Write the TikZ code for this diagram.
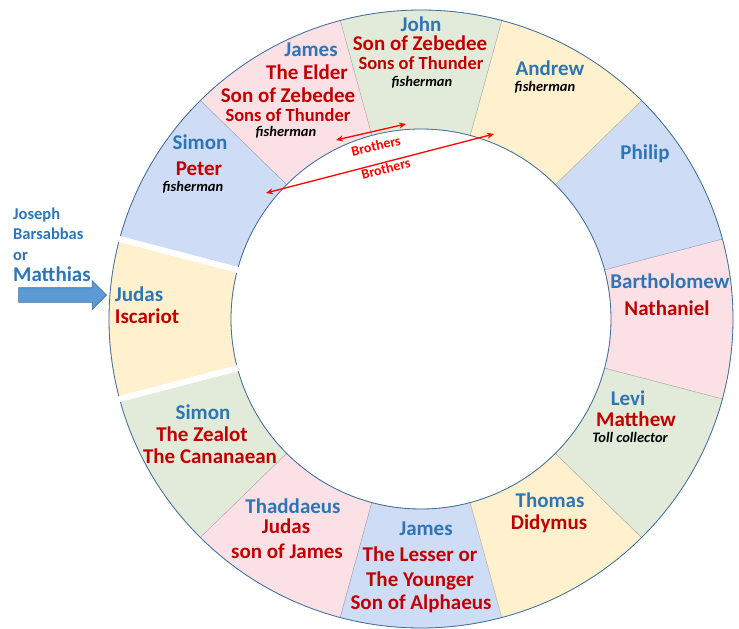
\documentclass[tikz,border=0pt]{standalone}
\usepackage{fontspec}
\setmainfont{Carlito}
\usepackage{tikz}
\usetikzlibrary{shapes.arrows,arrows.meta}

\definecolor{nameblue}{RGB}{46,117,182}
\definecolor{namered}{RGB}{192,0,0}
\definecolor{brored}{RGB}{255,0,0}
\definecolor{ringline}{RGB}{65,113,156}
\definecolor{arrowblue}{RGB}{91,155,213}
\definecolor{segpink}{RGB}{251,224,230}
\definecolor{segblue}{RGB}{206,220,246}
\definecolor{segyellow}{RGB}{255,241,205}
\definecolor{seggreen}{RGB}{226,235,218}

\tikzset{
  lbl/.style={inner sep=0pt, text depth=0pt},
  nm/.style={lbl, text=nameblue, font=\fontsize{21}{25}\selectfont\bfseries, text height=13.5pt},
  tt/.style={lbl, text=namered, font=\fontsize{21}{25}\selectfont\bfseries, text height=13.5pt},
  thn/.style={lbl, text=namered, font=\fontsize{18.5}{22}\selectfont\bfseries, text height=11.9pt},
  job/.style={lbl, text=black, font=\fontsize{14.5}{17}\selectfont\bfseries\itshape, text height=9.3pt},
  side/.style={lbl, anchor=west, text=nameblue, font=\fontsize{16.5}{20}\selectfont\bfseries, text height=10.6pt},
  bro/.style={lbl, text=brored, font=\fontsize{14}{17}\selectfont\bfseries, text height=9pt},
  broarrow/.style={{Stealth[length=7pt,width=6pt]}-{Stealth[length=7pt,width=6pt]}, brored, line width=1.3pt},
}

\begin{document}
\begin{tikzpicture}[x=1pt, y=-1pt]
\useasboundingbox (0,0) rectangle (739,629);

% ring of twelve
\begin{scope}[shift={(421,319)}]
\foreach \a/\c in {0/segpink, -30/segblue, -60/segyellow, -90/seggreen,
                   -120/segpink, -150/segblue, 180/segyellow, 150/seggreen,
                   120/segpink, 90/segblue, 60/segyellow, 30/seggreen}
  \filldraw[fill=\c, draw=\c!75!black, line width=0.4pt]
    (\a-15:190) -- (\a-15:312 and 309)
    arc[start angle=\a-15, end angle=\a+15, x radius=312, y radius=309]
    -- (\a+15:190)
    arc[start angle=\a+15, end angle=\a-15, radius=190] -- cycle;
\draw[ringline, line width=0.8pt] (0,0) ellipse[x radius=312, y radius=309];
\draw[ringline, line width=0.8pt] (0,0) circle[radius=190];
% Judas set apart
\draw[white, line width=6pt] (165:186) -- (165:318 and 315);
\draw[white, line width=6pt] (-165:186) -- (-165:318 and 315);
\end{scope}

% John
\node[nm] (john) at (421,25) {John};
\node[tt] (john2) at (420,44) {Son of Zebedee};
\node[thn] (john3) at (421,64) {Sons of Thunder};
\node[job] (john4) at (422,82) {fisherman};
% James the elder
\node[nm] (jamesA) at (311,50) {James};
\node[tt] (jamesA2) at (307,73) {The Elder};
\node[tt] (jamesA3) at (288,96) {Son of Zebedee};
\node[thn] (jamesA4) at (288,116) {Sons of Thunder};
\node[job] (jamesA5) at (286,132) {fisherman};
% Simon Peter
\node[nm] (simonP) at (200,143) {Simon};
\node[tt] (simonP2) at (199,169) {Peter};
\node[job] (simonP3) at (193,187) {fisherman};
% Andrew
\node[nm] (andrew) at (550,69) {Andrew};
\node[job] (andrew2) at (545,87) {fisherman};
% Philip
\node[nm] (philip) at (645,153) {Philip};
% Bartholomew
\node[nm] (bart) at (670,282) {Bartholomew};
\node[tt] (bart2) at (667,309) {Nathaniel};
% Levi
\node[nm] (levi) at (628,399) {Levi};
\node[tt] (levi2) at (636,420) {Matthew};
\node[job] (levi3) at (630,438) {Toll collector};
% Thomas
\node[nm] (thomas) at (550,501) {Thomas};
\node[tt] (thomas2) at (549,523) {Didymus};
% James the lesser
\node[nm] (jamesB) at (426,529) {James};
\node[tt] (jamesB2) at (420,555) {The Lesser or};
\node[tt] (jamesB3) at (420,580) {The Younger};
\node[tt] (jamesB4) at (421,603) {Son of Alphaeus};
% Thaddaeus
\node[nm] (thad) at (293,507) {Thaddaeus};
\node[tt] (thad2) at (286,527) {Judas};
\node[tt] (thad3) at (287,552) {son of James};
% Simon the zealot
\node[nm] (simonZ) at (203,413) {Simon};
\node[tt] (simonZ2) at (202,435) {The Zealot};
\node[tt] (simonZ3) at (210,457) {The Cananaean};
% Judas
\node[nm] (judas) at (139,295) {Judas};
\node[tt] (judas2) at (147,317) {Iscariot};

% replacement
\node[side] (joseph) at (13,214) {Joseph};
\node[side] (barsab) at (13,234) {Barsabbas};
\node[side] (or) at (13,255) {or};
\node[side, font=\fontsize{21}{25}\selectfont\bfseries, text height=13.5pt] (matthias) at (13,275) {Matthias};
\node[single arrow, draw=ringline, fill=arrowblue, line width=0.6pt, inner sep=7pt,
      minimum height=88pt, single arrow head extend=7pt, anchor=tip] (inarrow) at (107,295) {};

% brothers
\coordinate (broA1) at (336,140);
\coordinate (broA2) at (406,124);
\coordinate (broB1) at (266,193);
\coordinate (broB2) at (494,134);
\draw[broarrow] (broA1) -- (broA2);
\draw[broarrow] (broB1) -- (broB2);
\node[bro, rotate=13] (broA) at (376,146) {Brothers};
\node[bro, rotate=14.5] (broB) at (386,169) {Brothers};
\end{tikzpicture}
\end{document}
